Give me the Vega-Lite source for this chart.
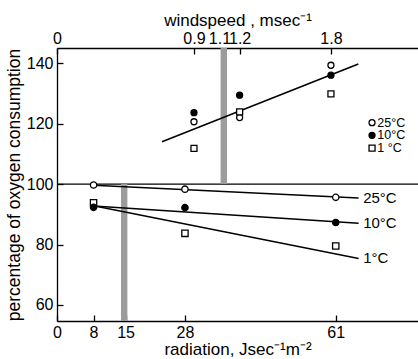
{
  "$schema": "https://vega.github.io/schema/vega-lite/v6.json",
  "width": 361,
  "height": 273,
  "autosize": {"type": "none"},
  "padding": {"left": 57, "top": 48, "right": 0, "bottom": 38},
  "background": "white",
  "config": {
    "view": {"stroke": null},
    "font": "Liberation Sans",
    "axis": {
      "domainColor": "black", "tickColor": "black", "labelColor": "black", "titleColor": "black",
      "grid": false, "labelFont": "Liberation Sans", "titleFont": "Liberation Sans",
      "titleFontWeight": "normal", "labelFontSize": 16, "titleFontSize": 17,
      "domainWidth": 1.3, "tickWidth": 1.3, "tickSize": -6, "labelPadding": 9
    }
  },
  "layer": [
    {
      "data": {"values": [{"y": 100}]},
      "mark": {"type": "rule", "color": "black", "strokeWidth": 1.2},
      "encoding": {"y": {"field": "y", "type": "quantitative", "scale": {"domain": [54.7, 145], "nice": false, "zero": false},
        "axis": {"values": [60, 80, 100, 120, 140], "title": "percentage of oxygen consumption", "titleFontSize": 17.5, "titlePadding": 3, "labelPadding": 10}}}
    },
    {
      "encoding": {
        "x": {"field": "x", "type": "quantitative", "scale": {"domain": [0, 79], "nice": false, "zero": false},
          "axis": {"orient": "bottom", "values": [0, 8, 15, 28, 61], "title": "radiation, Jsec⁻¹m⁻²", "titlePadding": 1, "labelPadding": 9, "labelFlush": false}},
        "y": {"field": "y", "type": "quantitative", "scale": {"domain": [54.7, 145], "nice": false, "zero": false},
          "axis": {"values": [60, 80, 100, 120, 140], "title": "percentage of oxygen consumption", "titleFontSize": 17.5, "titlePadding": 3, "labelPadding": 10}}
      },
      "layer": [
        {
          "data": {"values": [{"x": 14, "x2": 15.4, "y": 54.7, "y2": 100}]},
          "mark": {"type": "rect", "fill": "#9c9c9c"},
          "encoding": {"x2": {"field": "x2"}, "y2": {"field": "y2"}}
        },
        {
          "data": {"values": [
            {"series": "25", "x": 8, "y": 99.6}, {"series": "25", "x": 66, "y": 95.4},
            {"series": "10", "x": 8, "y": 92.7}, {"series": "10", "x": 66, "y": 87.0},
            {"series": "1", "x": 8, "y": 92.8}, {"series": "1", "x": 66, "y": 75.4}
          ]},
          "mark": {"type": "line", "color": "black", "strokeWidth": 1.5},
          "encoding": {"detail": {"field": "series"}}
        },
        {
          "data": {"values": [
            {"x": 8, "y": 99.7, "temp": "25°C"}, {"x": 8, "y": 93.8, "temp": "1 °C"}, {"x": 8, "y": 92.3, "temp": "10°C"},
            {"x": 28, "y": 98.3, "temp": "25°C"}, {"x": 28, "y": 92.2, "temp": "10°C"}, {"x": 28, "y": 83.7, "temp": "1 °C"},
            {"x": 61, "y": 95.6, "temp": "25°C"}, {"x": 61, "y": 87.3, "temp": "10°C"}, {"x": 61, "y": 79.5, "temp": "1 °C"}
          ]},
          "mark": {"type": "point", "filled": true, "stroke": "black", "strokeWidth": 1.3, "size": 40, "opacity": 1},
          "encoding": {
            "shape": {"field": "temp", "type": "nominal", "scale": {"domain": ["25°C", "10°C", "1 °C"], "range": ["circle", "circle", "square"]}, "legend": null},
            "fill": {"field": "temp", "type": "nominal", "scale": {"domain": ["25°C", "10°C", "1 °C"], "range": ["white", "black", "white"]}, "legend": null}
          }
        },
        {
          "data": {"values": [
            {"x": 67, "y": 95.5, "label": "25°C"},
            {"x": 67, "y": 87.0, "label": "10°C"},
            {"x": 67, "y": 75.4, "label": "1°C"}
          ]},
          "mark": {"type": "text", "align": "left", "baseline": "middle", "fontSize": 15, "color": "black"},
          "encoding": {"text": {"field": "label"}}
        }
      ]
    },
    {
      "encoding": {
        "x": {"field": "x", "type": "quantitative", "scale": {"domain": [0, 2.372], "nice": false, "zero": false},
          "axis": {"orient": "top", "values": [0, 0.9, 1.1, 1.2, 1.8], "format": ".1~f", "labelOverlap": false, "labelFlush": false,
            "labelPadding": 8, "labelOffset": {"condition": {"test": "datum.value == 1.1", "value": -5}, "value": 0},
            "title": "windspeed , msec⁻¹", "titlePadding": 1}},
        "y": {"field": "y", "type": "quantitative", "scale": {"domain": [54.7, 145], "nice": false, "zero": false},
          "axis": {"values": [60, 80, 100, 120, 140], "title": "percentage of oxygen consumption", "titleFontSize": 17.5, "titlePadding": 3, "labelPadding": 10}}
      },
      "layer": [
        {
          "data": {"values": [{"x": 1.075, "x2": 1.117, "y": 100, "y2": 145}]},
          "mark": {"type": "rect", "fill": "#9c9c9c"},
          "encoding": {"x2": {"field": "x2"}, "y2": {"field": "y2"}}
        },
        {
          "data": {"values": [{"x": 0.69, "y": 114.0}, {"x": 1.98, "y": 139.7}]},
          "mark": {"type": "line", "color": "black", "strokeWidth": 1.6}
        },
        {
          "data": {"values": [
            {"x": 0.9, "y": 120.6, "temp": "25°C"}, {"x": 0.9, "y": 123.6, "temp": "10°C"}, {"x": 0.9, "y": 111.8, "temp": "1 °C"},
            {"x": 1.2, "y": 122.0, "temp": "25°C"}, {"x": 1.2, "y": 129.4, "temp": "10°C"}, {"x": 1.2, "y": 123.9, "temp": "1 °C"},
            {"x": 1.8, "y": 139.3, "temp": "25°C"}, {"x": 1.8, "y": 136.0, "temp": "10°C"}, {"x": 1.8, "y": 129.8, "temp": "1 °C"},
            {"x": 2.07, "y": 120.3, "temp": "25°C"}, {"x": 2.07, "y": 116.1, "temp": "10°C"}, {"x": 2.07, "y": 111.9, "temp": "1 °C"}
          ]},
          "mark": {"type": "point", "filled": true, "stroke": "black", "strokeWidth": 1.3, "size": 36, "opacity": 1},
          "encoding": {
            "shape": {"field": "temp", "type": "nominal", "scale": {"domain": ["25°C", "10°C", "1 °C"], "range": ["circle", "circle", "square"]}, "legend": null},
            "fill": {"field": "temp", "type": "nominal", "scale": {"domain": ["25°C", "10°C", "1 °C"], "range": ["white", "black", "white"]}, "legend": null}
          }
        },
        {
          "data": {"values": [
            {"x": 2.105, "y": 120.3, "label": "25°C"},
            {"x": 2.105, "y": 116.1, "label": "10°C"},
            {"x": 2.105, "y": 111.9, "label": "1 °C"}
          ]},
          "mark": {"type": "text", "align": "left", "baseline": "middle", "fontSize": 12.5, "color": "black"},
          "encoding": {"text": {"field": "label"}}
        }
      ]
    }
  ],
  "resolve": {"scale": {"x": "independent"}, "axis": {"x": "independent"}}
}
